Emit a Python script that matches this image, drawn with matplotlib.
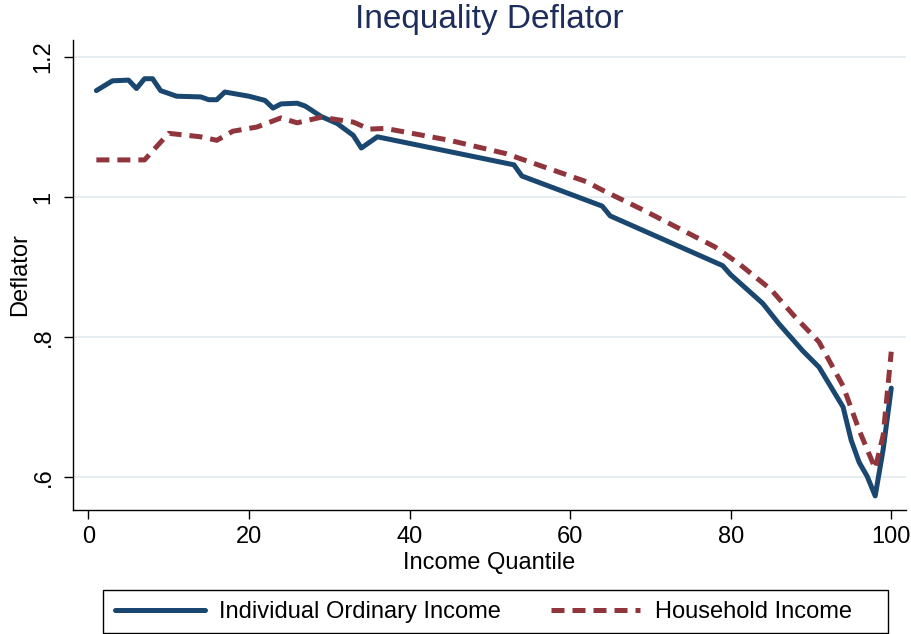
import numpy as np
import matplotlib
matplotlib.use("Agg")
import matplotlib.pyplot as plt
from matplotlib.patches import Rectangle

plt.rcParams['font.family'] = ['Liberation Sans', 'DejaVu Sans']

# values (income quantile, deflator)
indiv_q = [1, 3, 5, 6, 7, 8, 9, 11, 14, 15, 16, 17, 20, 22, 23, 24, 26, 27, 29, 31,
           33, 34, 36, 53, 54, 64, 65, 79, 80, 84, 86, 89, 91, 94, 95, 96, 97, 98, 99, 100]
indiv_d = [1.152, 1.166, 1.167, 1.155, 1.169, 1.169, 1.152, 1.144, 1.143, 1.139, 1.139, 1.150,
           1.144, 1.138, 1.127, 1.133, 1.134, 1.130, 1.115, 1.105, 1.088, 1.070, 1.086, 1.046,
           1.030, 0.987, 0.973, 0.902, 0.889, 0.848, 0.819, 0.780, 0.757, 0.700, 0.653, 0.621,
           0.601, 0.573, 0.640, 0.727]

house_q = [1, 7, 10, 14, 16, 18, 21, 24, 26, 29, 33, 35, 37, 45, 52, 55, 62, 64, 69, 78,
           81, 85, 88, 91, 94, 96, 98, 99, 100]
house_d = [1.053, 1.053, 1.091, 1.086, 1.081, 1.094, 1.100, 1.113, 1.106, 1.114, 1.107, 1.097,
           1.098, 1.081, 1.062, 1.050, 1.022, 1.010, 0.982, 0.929, 0.905, 0.868, 0.829, 0.793,
           0.730, 0.667, 0.612, 0.660, 0.779]

xticks = [0, 20, 40, 60, 80, 100]
yticks = [0.6, 0.8, 1.0, 1.2]
ytick_labels = ['.6', '.8', '1', '1.2']

navy = '#1a476f'
maroon = '#90353b'

W, H = 912, 634
fig = plt.figure(figsize=(W / 100, H / 100), dpi=100)
ax = fig.add_axes([0.0804, 0.1956, 0.9127, 0.7413])

for y in yticks:
    ax.axhline(y, color='#e6eef2', lw=1.4, zorder=0)

ax.plot(indiv_q, indiv_d, color=navy, lw=3.6, solid_capstyle='round',
        solid_joinstyle='round', label='Individual Ordinary Income')
hh, = ax.plot(house_q, house_d, color=maroon, lw=3.6, ls='--',
              label='Household Income')
hh.set_dashes([2.6, 1.6])

ax.set_xlim(-1.87, 101.8)
ax.set_ylim(0.5529, 1.2243)
ax.set_xticks(xticks)
ax.set_yticks(yticks)
ax.set_yticklabels(ytick_labels, rotation=90, va='center')

for s in ['top', 'right']:
    ax.spines[s].set_visible(False)
for s in ['left', 'bottom']:
    ax.spines[s].set_linewidth(1.0)

ax.tick_params(axis='both', direction='out', length=6.5, width=1.0, labelsize=17, pad=5)
ax.tick_params(axis='y', pad=7)

ax.set_xlabel('Income Quantile', fontsize=17, labelpad=3)
ax.set_ylabel('Deflator', fontsize=17, labelpad=1)
ax.set_title('Inequality Deflator', fontsize=24, color='#1e2d5c', pad=9)

# legend box is wider on the right, like the Stata one
fig.patches.append(Rectangle((103 / W, 1 - 633 / H), 785 / W, 43 / H,
                             transform=fig.transFigure, fill=False,
                             edgecolor='black', lw=1.0))
leg = fig.legend(loc='center', bbox_to_anchor=(483.5 / W, 1 - 612 / H), ncol=2,
                 fontsize=17, frameon=False,
                 handlelength=3.8, handletextpad=0.6, columnspacing=2.1,
                 borderpad=0.5, borderaxespad=0)

fig.savefig('out.png', dpi=100)
